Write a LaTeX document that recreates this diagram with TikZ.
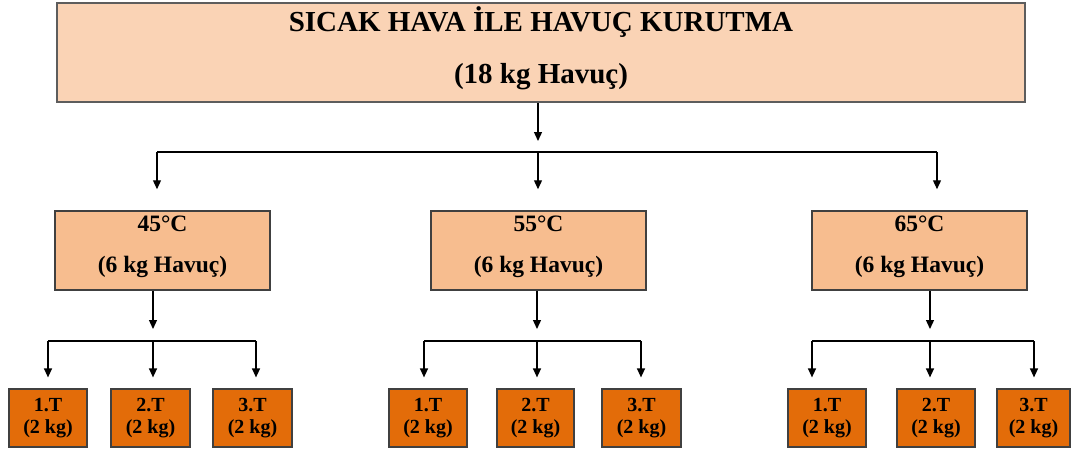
\documentclass[tikz,border=0pt]{standalone}
\usepackage{fontspec}
\setmainfont{Liberation Serif}
\usetikzlibrary{arrows.meta}

\definecolor{topfill}{HTML}{FAD3B5}
\definecolor{midfill}{HTML}{F7BD8F}
\definecolor{lowfill}{HTML}{E36C09}
\definecolor{edge}{HTML}{404040}

\tikzset{
  box/.style={draw=edge, inner sep=0pt, align=center},
  topbox/.style={box, fill=topfill, line width=2pt, draw=edge!85,
    minimum width=968pt, minimum height=99pt,
    font=\fontsize{29}{52}\selectfont\bfseries, text depth=15pt},
  tempbox/.style={box, fill=midfill, line width=1.5pt,
    minimum width=215pt, minimum height=79pt,
    font=\fontsize{23.5}{41}\selectfont\bfseries, text depth=12pt},
  trialbox/.style={box, fill=lowfill, line width=1.2pt,
    minimum width=78pt, minimum height=58pt,
    font=\fontsize{20}{22.5}\selectfont\bfseries},
  ln/.style={draw=black, line width=1.3pt},
  arr/.style={ln, -{Triangle[length=9pt,width=8pt]}},
}

\begin{document}
\begin{tikzpicture}[x=1pt, y=-1pt]
\useasboundingbox (0,0) rectangle (1072,450);

% main process
\node[topbox] (top) at (541,52.5) {SICAK HAVA İLE HAVUÇ KURUTMA\\(18 kg Havuç)};

% drying temperatures
\node[tempbox] (t45) at (162.5,250.5) {45°C\\(6 kg Havuç)};
\node[tempbox] (t55) at (538.5,250.5) {55°C\\(6 kg Havuç)};
\node[tempbox] (t65) at (919.5,250.5) {65°C\\(6 kg Havuç)};

% trials at 45 °C
\node[trialbox] (a1) at (48,418)    {1.T\\(2 kg)};
\node[trialbox, minimum width=79pt] (a2) at (150.5,418) {2.T\\(2 kg)};
\node[trialbox, minimum width=79pt] (a3) at (252.5,418) {3.T\\(2 kg)};
% trials at 55 °C
\node[trialbox] (b1) at (428,418)   {1.T\\(2 kg)};
\node[trialbox, minimum width=77pt] (b2) at (535.5,418) {2.T\\(2 kg)};
\node[trialbox, minimum width=79pt] (b3) at (641.5,418) {3.T\\(2 kg)};
% trials at 65 °C
\node[trialbox] (c1) at (827,418)   {1.T\\(2 kg)};
\node[trialbox] (c2) at (936,418)   {2.T\\(2 kg)};
\node[trialbox, minimum width=73pt] (c3) at (1033.5,418) {3.T\\(2 kg)};

% split of the main batch
\coordinate (s0) at (538,141);
\coordinate (hl) at (157,152);
\coordinate (hm) at (538,152);
\coordinate (hr) at (937,152);
\draw[arr] (top.south -| s0) -- (s0);
\draw[ln] (hl) -- (hr);
\draw[arr, shorten >=21pt] (hl) -- (hl |- t45.north);
\draw[arr, shorten >=21pt] (hm) -- (hm |- t55.north);
\draw[arr, shorten >=21pt] (hr) -- (hr |- t65.north);

% split at 45 °C
\coordinate (sa) at (153,329);
\coordinate (al) at (48,341);
\coordinate (am) at (153,341);
\coordinate (ar) at (256,341);
\draw[arr] (t45.south -| sa) -- (sa);
\draw[ln] (al) -- (ar);
\draw[arr, shorten >=11pt] (al) -- (al |- a1.north);
\draw[arr, shorten >=11pt] (am) -- (am |- a2.north);
\draw[arr, shorten >=11pt] (ar) -- (ar |- a3.north);

% split at 55 °C
\coordinate (sb) at (537,329);
\coordinate (bl) at (424,341);
\coordinate (bm) at (537,341);
\coordinate (br) at (641,341);
\draw[arr] (t55.south -| sb) -- (sb);
\draw[ln] (bl) -- (br);
\draw[arr, shorten >=11pt] (bl) -- (bl |- b1.north);
\draw[arr, shorten >=11pt] (bm) -- (bm |- b2.north);
\draw[arr, shorten >=11pt] (br) -- (br |- b3.north);

% split at 65 °C
\coordinate (sc) at (930,329);
\coordinate (cl) at (812,341);
\coordinate (cm) at (930,341);
\coordinate (cr) at (1034,341);
\draw[arr] (t65.south -| sc) -- (sc);
\draw[ln] (cl) -- (cr);
\draw[arr, shorten >=11pt] (cl) -- (cl |- c1.north);
\draw[arr, shorten >=11pt] (cm) -- (cm |- c2.north);
\draw[arr, shorten >=11pt] (cr) -- (cr |- c3.north);
\end{tikzpicture}
\end{document}
